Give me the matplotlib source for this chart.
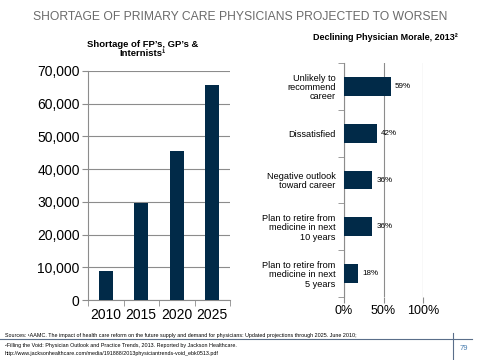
import matplotlib.pyplot as plt
from matplotlib.ticker import FuncFormatter

years = ["2010", "2015", "2020", "2025"]
shortage = [9000, 29800, 45600, 65800]

morale_labels = ["Unlikely to\nrecommend\ncareer", "Dissatisfied",
                 "Negative outlook\ntoward career",
                 "Plan to retire from\nmedicine in next\n10 years",
                 "Plan to retire from\nmedicine in next\n5 years"]
morale_pct = [59, 42, 36, 36, 18]

navy = "#012A48"
grid = "#8c8c8c"

plt.rcParams['font.family'] = ['Liberation Sans', 'DejaVu Sans']
fig = plt.figure(figsize=(4.8, 3.6), dpi=100)

fig.text(0.5, 0.953, "SHORTAGE OF PRIMARY CARE PHYSICIANS PROJECTED TO WORSEN",
         ha="center", va="center", fontsize=8.7, color="#6b6b6b")

# left: shortage bars
ax1 = fig.add_axes([88 / 480, 60 / 360, 142 / 480, 229 / 360])
x = range(len(years))
ax1.bar(x, shortage, width=0.4, color=navy, zorder=3)
ax1.set_ylim(0, 70000)
ax1.set_xlim(-0.5, 3.5)
ax1.set_yticks(range(0, 70001, 10000))
ax1.yaxis.set_major_formatter(FuncFormatter(lambda v, p: f"{int(v):,}"))
ax1.set_xticks([i for i in x])
ax1.set_xticklabels(years)
ax1.set_xticks([-0.5, 0.5, 1.5, 2.5, 3.5], minor=True)
ax1.tick_params(axis="x", which="major", length=0, labelsize=10, pad=6)
ax1.tick_params(axis="x", which="minor", length=4, color=grid)
ax1.tick_params(axis="y", length=4, color=grid, labelsize=10, pad=2)
ax1.grid(axis="y", color=grid, lw=0.8, zorder=0)
for s in ["top", "right"]:
    ax1.spines[s].set_visible(False)
for s in ["left", "bottom"]:
    ax1.spines[s].set_color(grid)
fig.text(143 / 480, 1 - 49 / 360, "Shortage of FP’s, GP’s &\nInternists¹",
         ha="center", va="center", fontsize=6.8, fontweight="bold",
         linespacing=1.0)

# right: morale bars
ax2 = fig.add_axes([344 / 480, 63 / 360, 79 / 480, 234 / 360])
y = range(len(morale_pct))
ax2.barh(y, morale_pct, height=0.4, color=navy, zorder=3)
ax2.set_xlim(0, 100)
ax2.set_ylim(len(morale_pct) - 0.5, -0.5)
ax2.set_xticks([0, 50, 100])
ax2.set_xticklabels(["0%", "50%", "100%"])
ax2.set_yticks(list(y))
ax2.set_yticklabels(morale_labels, fontsize=6.6, linespacing=1.05)
ax2.set_yticks([i - 0.5 for i in range(len(morale_pct) + 1)], minor=True)
ax2.tick_params(axis="y", which="major", length=0, pad=6)
ax2.tick_params(axis="y", which="minor", length=4, color=grid)
ax2.tick_params(axis="x", length=4, color=grid, labelsize=9, pad=2)
ax2.grid(axis="x", color=grid, lw=0.8, zorder=0)
for s in ["top", "right", "bottom"]:
    ax2.spines[s].set_visible(False)
ax2.spines["left"].set_color(grid)
for i, v in enumerate(morale_pct):
    ax2.text(v + 5, i, f"{v}%", va="center", fontsize=5.8)
fig.text(385 / 480, 1 - 37 / 360, "Declining Physician Morale, 2013²",
         ha="center", va="center", fontsize=6.5, fontweight="bold")

# footer
fig.add_artist(plt.Line2D([0, 472 / 480], [1 - 339 / 360] * 2, color="#5a6e8a", lw=0.8))
fig.add_artist(plt.Line2D([453 / 480] * 2, [1 - 333 / 360, 0], color="#5a6e8a", lw=0.8))
fig.text(460 / 480, 1 - 348 / 360, "79", fontsize=5.5, color="#4a7fb0", va="center")
fig.text(5 / 480, 1 - 336 / 360,
         "Sources: ¹AAMC. The impact of health care reform on the future supply and demand for physicians: Updated projections through 2025. June 2010;",
         fontsize=3.9, va="center")
fig.text(5 / 480, 1 - 345 / 360,
         "²Filling the Void: Physician Outlook and Practice Trends, 2013. Reported by Jackson Healthcare.",
         fontsize=3.9, va="center")
fig.text(5 / 480, 1 - 353 / 360,
         "http://www.jacksonhealthcare.com/media/191888/2013physiciantrends-void_ebk0513.pdf",
         fontsize=3.9, va="center")

fig.savefig("out.png", dpi=100)
